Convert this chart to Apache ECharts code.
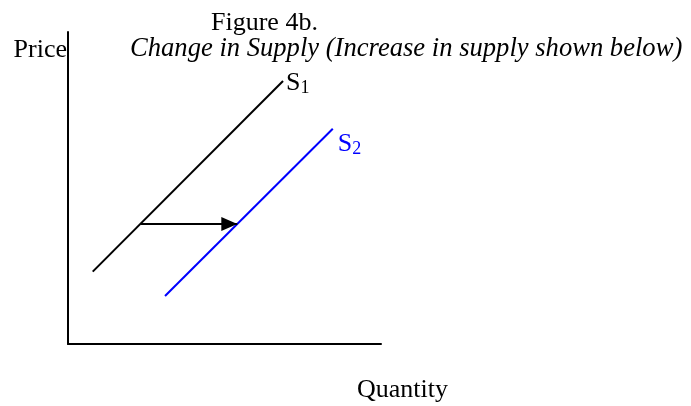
<!DOCTYPE html>
<html>
<head>
<meta charset="utf-8">
<title>Figure 4b</title>
<script src="https://cdn.jsdelivr.net/npm/echarts@6/dist/echarts.min.js"></script>
<style>
    html, body { margin: 0; padding: 0; background: #fff; }
    #chart { width: 691px; height: 406px; }
</style>
</head>
<body>
<div id="chart"></div>
<script>
// 坐标单位: 0-10 (无刻度)
var s1Points = [[0.79, 2.32], [6.87, 8.43]];
var s2Points = [[3.10, 1.54], [8.46, 6.90]];
var shiftArrow = [[2.32, 3.85], [5.41, 3.85]];
var seriesNames = ['S1', 'S2'];
var axisNames = ['Quantity', 'Price'];

var supplyChart = function(){
    var box = document.getElementById('chart');
    var myCharts = echarts.init(box);
    var font = '"Liberation Serif", "Times New Roman", serif';

    var option = {
        animation: false,
        title: [
            {
                text: 'Figure 4b.',
                left: 211, top: 8, padding: 0,
                textStyle: { fontFamily: font, fontSize: 26, fontWeight: 'normal', color: '#000', lineHeight: 30 }
            },
            {
                text: 'Change in Supply (Increase in supply shown below)',
                left: 130, top: 34, padding: 0,
                textStyle: { fontFamily: font, fontSize: 26.6, fontWeight: 'normal', fontStyle: 'italic', color: '#000', lineHeight: 30 }
            }
        ],
        grid: { left: 68, top: 32, width: 313, height: 312 },
        xAxis: {
            type: 'value', min: 0, max: 10,
            name: axisNames[0], nameLocation: 'end', nameGap: -24,
            nameTextStyle: { fontFamily: font, fontSize: 26, color: '#000', align: 'left', verticalAlign: 'top', padding: [33, 0, 0, 0] },
            axisLine: { lineStyle: { color: '#000', width: 2 } },
            axisTick: { show: false }, axisLabel: { show: false }, splitLine: { show: false }
        },
        yAxis: {
            type: 'value', min: 0, max: 10,
            name: axisNames[1], nameLocation: 'end', nameGap: -31,
            nameTextStyle: { fontFamily: font, fontSize: 26, color: '#000', align: 'right', verticalAlign: 'bottom', padding: [0, 1, 0, 0] },
            axisLine: { lineStyle: { color: '#000', width: 2 } },
            axisTick: { show: false }, axisLabel: { show: false }, splitLine: { show: false }
        },
        series: [
            {
                name: seriesNames[0], type: 'line', showSymbol: false, symbol: 'none',
                lineStyle: { color: '#000', width: 2 },
                data: s1Points,
                endLabel: {
                    show: true, distance: 3, offset: [0, 2],
                    formatter: '{s|S}{n|1}',
                    rich: {
                        s: { fontFamily: font, fontSize: 26, color: '#000' },
                        n: { fontFamily: font, fontSize: 18, color: '#000', padding: [11, 0, 0, 0] }
                    }
                },
                markLine: {
                    silent: true, symbol: ['none', 'triangle'], symbolSize: [14, 16],
                    symbolOffset: [[0, 0], [0, 8]],
                    label: { show: false },
                    lineStyle: { color: '#000', width: 2, type: 'solid' },
                    data: [[{ coord: shiftArrow[0] }, { coord: shiftArrow[1] }]]
                }
            },
            {
                name: seriesNames[1], type: 'line', showSymbol: false, symbol: 'none',
                lineStyle: { color: '#0000ff', width: 2 },
                data: s2Points,
                endLabel: {
                    show: true, distance: 5, offset: [0, 15],
                    formatter: '{s|S}{n|2}',
                    rich: {
                        s: { fontFamily: font, fontSize: 26, color: '#0000ff' },
                        n: { fontFamily: font, fontSize: 18, color: '#0000ff', padding: [11, 0, 0, 0] }
                    }
                }
            }
        ]
    };
    myCharts.setOption(option);
};

supplyChart();
</script>
</body>
</html>
